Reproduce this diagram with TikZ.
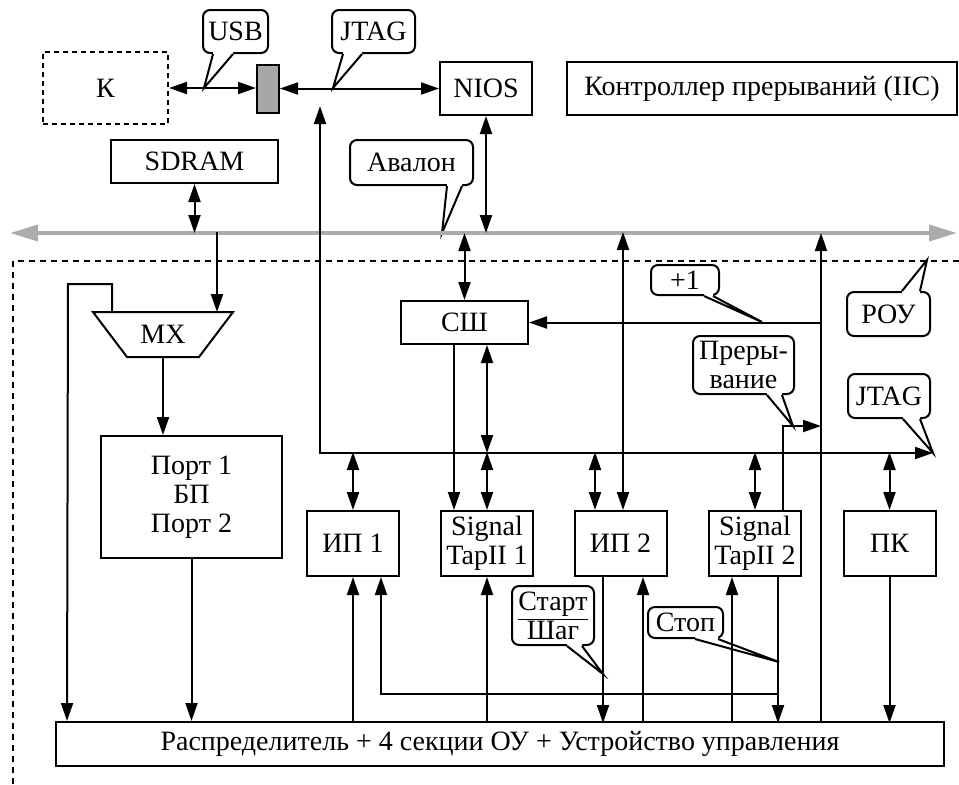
\documentclass[tikz,border=0pt]{standalone}
\usepackage{fontspec}
\setmainfont{Liberation Serif}
\usetikzlibrary{arrows.meta,calc}

\tikzset{
  block/.style={draw, fill=white, line width=1pt, inner sep=0pt,
    minimum width=46pt, minimum height=32.5pt, align=center},
  talk/.style={draw, fill=white, line width=1pt, rounded corners=3.5pt,
    inner sep=0pt, align=center},
  bus/.style={draw=gray!65, line width=2pt,
    {Triangle[length=14pt,width=8pt]}-{Triangle[length=14pt,width=8pt]}},
  frame/.style={line width=1pt, dash pattern=on 3pt off 2.5pt},
}
% pointer of a talk box: base anchor, left dx, right dx, inward dy, tip
\newcommand{\talkptr}[5]{%
  \fill[white] ($(#1)+(#2,#4)$) -- ($(#1)+(#2,0)$) -- (#5) -- ($(#1)+(#3,0)$) -- ($(#1)+(#3,#4)$) -- cycle;
  \draw[line width=1pt] ($(#1)+(#2,0)$) -- (#5) -- ($(#1)+(#3,0)$);
}

\begin{document}
\begin{tikzpicture}[x=0.5pt, y=-0.5pt, line width=1pt,
    >={Triangle[length=9pt,width=6pt]},
    font=\fontsize{14}{14.5}\selectfont]
  \useasboundingbox (0,0) rectangle (959,784);

  % blocks
  \node[block, dash pattern=on 2.5pt off 2pt, minimum width=62.5pt, minimum height=36pt] (k) at (105.5,88) {К};
  \node[draw, fill=gray!70, inner sep=0pt, minimum width=11pt, minimum height=24pt] (conn) at (268,89) {};
  \node[block, minimum height=26.5pt] (nios) at (486,88.5) {NIOS};
  \node[block, minimum width=195pt, minimum height=26.5pt] (pic) at (762,88.5) {Контроллер прерываний (IIC)};
  \node[block, minimum width=83.5pt, minimum height=21.5pt] (sdram) at (194.5,161.5) {SDRAM};

  \node[inner sep=0pt, minimum width=69pt, minimum height=21.5pt] (mx) at (163,334.5) {MX};
  \draw (mx.north west) -- (mx.north east) -- ($(mx.south east)+(-34,0)$) -- ($(mx.south west)+(34,0)$) -- cycle;
  \node[block, minimum width=90.5pt, minimum height=61pt] (port) at (191.5,497) {Порт 1\\БП\\Порт 2};
  \node[block, minimum width=63.5pt, minimum height=21.5pt] (ssh) at (464.5,322.5) {СШ};
  \node[block] (ip1) at (353,543.5) {ИП 1};
  \node[block] (st1) at (487,543.5) {Signal\\TapII 1};
  \node[block] (ip2) at (620.5,543.5) {ИП 2};
  \node[block] (st2) at (755,543.5) {Signal\\TapII 2};
  \node[block] (pk) at (889.5,543.5) {ПК};
  \node[block, minimum width=444pt, minimum height=22pt] (dist) at (500,744) {Распределитель + 4 секции ОУ + Устройство управления};

  % talk boxes
  \node[talk, minimum width=32.5pt, minimum height=21.5pt] (usb) at (235.5,31.5) {USB};
  \talkptr{usb.south}{-22.5}{-2.5}{-3}{204,88}
  \node[talk, minimum width=41.5pt, minimum height=21.5pt] (jtag) at (373.5,31.5) {JTAG};
  \talkptr{jtag.south}{-30.5}{-11.5}{-3}{333,88}
  \node[talk, minimum width=61.5pt, minimum height=22.5pt] (aval) at (411.5,162.5) {Авалон};
  \talkptr{aval.south}{35.5}{50.5}{-3}{442,233}
  \node[talk, minimum width=34pt, minimum height=15pt] (inc) at (685,280) {+1};
  \talkptr{inc.south}{19}{28}{-3}{762,322}
  \node[talk, minimum width=41.5pt, minimum height=22pt] (rou) at (888.5,314) {РОУ};
  \talkptr{rou.north}{13.5}{31.5}{3}{927,260}
  \node[talk, minimum width=50.5pt, minimum height=29pt] (intr) at (743.5,365) {Преры-\\вание};
  \talkptr{intr.south}{23.5}{38.5}{-3}{793,426}
  \node[talk, minimum width=41pt, minimum height=22pt] (jtagb) at (889,396) {JTAG};
  \talkptr{jtagb.south}{14}{31}{-3}{933,453}
  \node[talk, minimum width=41pt, minimum height=29.5pt] (start) at (553,615.5) {\underline{Старт}\\Шаг};
  \talkptr{start.south}{14}{29}{-3}{603,674}
  \node[talk, minimum width=37.5pt, minimum height=15.5pt] (stop) at (685.5,622.5) {Стоп};
  \talkptr{stop.south}{9.5}{32.5}{-3}{779,662}

  \coordinate (busL) at (10,233);
  \coordinate (busR) at (957,233);
  \coordinate (ibtop) at (320,106);
  \coordinate (ib) at (320,453);
  \coordinate (ibend) at (933,453);
  \coordinate (rx) at (821,233);
  \coordinate (irq) at (821,426);
  \coordinate (stp) at (778,694);

  \draw[bus] (busL) -- (busR);
  \draw[frame] (13,784) -- (13,261) -- (959,261);

  % top part
  \draw[<->] (k.east) -- (k.east -| conn.west);
  \draw[<->] (conn.east |- nios.west) -- (nios.west);
  \draw[<->] (nios.south) -- (nios.south |- busL);
  \draw[<->] (sdram.south) -- (sdram.south |- busL);
  \draw[<->] (ibtop) -- (ib) -- (ibend);

  % MX and port
  \draw[->] ($(mx.north)+(54,-80)$) -- ($(mx.north)+(54,0)$);
  \draw[->] ($(mx.north)+(-51,0)$) -- ++(0,-28) -- ++(-44,0) -- ($(dist.north west)+(12,0)$);
  \draw[->] (mx.south) -- (mx.south |- port.north);
  \draw[->] (port.south) -- (port.south |- dist.north);

  % СШ
  \draw[<->] (ssh.north |- busL) -- (ssh.north);
  \draw[->] (rx |- dist.north) -- (rx);
  \draw[->] (rx |- ssh.east) -- (ssh.east);
  \draw[<->] (st1.north |- ssh.south) -- (st1.north |- ib);
  \draw[->] ($(st1.north)+(-33,-167)$) -- ($(st1.north)+(-33,0)$);
  \draw[<->] ($(ip2.north)+(2.5,-278)$) -- ($(ip2.north)+(2.5,0)$);
  \draw[->] ($(st2.north)+(28,0)$) |- (irq);

  % lower blocks
  \foreach \n/\dx in {ip1/0, st1/0, ip2/-25.5, st2/0, pk/0}
    \draw[<->] ($(\n.north)+(\dx,-58)$) -- ($(\n.north)+(\dx,0)$);
  \foreach \n/\dx in {ip1/0, st1/0, ip2/22.5, st2/-23}
    \draw[->] ($(\n.south)+(\dx,146)$) -- ($(\n.south)+(\dx,0)$);
  \foreach \n/\dx in {ip2/-17.5, st2/23, pk/0}
    \draw[->] ($(\n.south)+(\dx,0)$) -- ($(\n.south)+(\dx,146)$);
  \draw[->] (stp) -| ($(ip1.south)+(28,0)$);
\end{tikzpicture}
\end{document}
